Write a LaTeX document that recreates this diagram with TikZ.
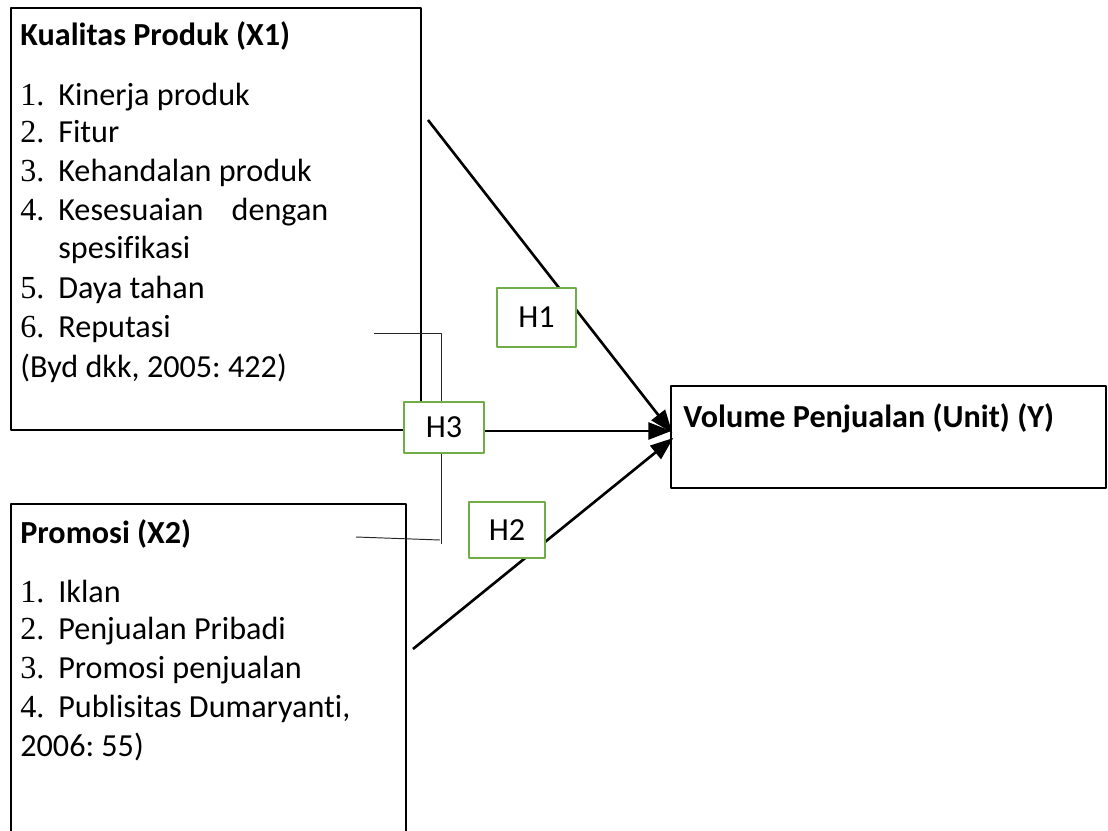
\documentclass[tikz,border=0pt]{standalone}
\usepackage{fontspec}
\setmainfont{Carlito}[Ligatures=NoCommon]
\newfontfamily\numfont{Liberation Serif}
\usetikzlibrary{arrows.meta,fit,calc}

\definecolor{hgreen}{RGB}{112,173,71}
\frenchspacing

\tikzset{
  box/.style={draw, line width=0.8pt, inner sep=0pt},
  hbox/.style={draw=hgreen, line width=1pt, fill=white, inner sep=0pt, font=\fontsize{18.3}{22}\selectfont},
  txt/.style={anchor=base west, inner sep=0pt, font=\fontsize{18.3}{22}\selectfont},
  num/.style={anchor=base west, inner sep=0pt, font=\numfont\fontsize{18.3}{22}\selectfont},
  ttl/.style={anchor=base west, inner sep=0pt, font=\bfseries\fontsize{18.3}{22}\selectfont},
  link/.style={line width=0.55pt, black!85},
  arr/.style={line width=1.5pt, -{Triangle[length=0.46cm, width=0.34cm]}},
}

\begin{document}
\begin{tikzpicture}[x=0.02cm, y=-0.02cm, line join=round]
    \useasboundingbox (0,0) rectangle (1108,831);
    \clip (0,0) rectangle (1108,831);

    % kotak variabel
    \node[box, fit={(11,8) (421,430)}] (X1) {};
    \node[box, fit={(11,504) (406,860)}] (X2) {};
    \node[box, fit={(671,386) (1106,488)}] (Y) {};

    % isi X1
    \node[ttl] (x1t) at (20,46) {Kualitas Produk (X1)};
    \node[num] (a1) at (20,106) {1.};
    \node[txt] (a1t) at (58,106) {Kinerja produk};
    \node[num] (a2) at (20,143) {2.};
    \node[txt] (a2t) at (58,143) {Fitur};
    \node[num] (a3) at (20,182) {3.};
    \node[txt] (a3t) at (58,182) {Kehandalan produk};
    \node[num] (a4) at (20,220) {4.};
    \node[txt] (a4t) at (58,220) {\makebox[5.4cm][s]{Kesesuaian dengan}};
    \node[txt] (a4u) at (58,258) {spesifikasi};
    \node[num] (a5) at (20,298) {5.};
    \node[txt] (a5t) at (58,298) {Daya tahan};
    \node[num] (a6) at (20,337) {6.};
    \node[txt] (a6t) at (58,337) {Reputasi};
    \node[txt] (x1s) at (20,377) {(Byd dkk, 2005: 422)};

    % isi X2
    \node[ttl] (x2t) at (20,543) {Promosi (X2)};
    \node[num] (b1) at (20,602) {1.};
    \node[txt] (b1t) at (58,602) {Iklan};
    \node[num] (b2) at (20,639) {2.};
    \node[txt] (b2t) at (58,639) {Penjualan Pribadi};
    \node[num] (b3) at (20,678) {3.};
    \node[txt] (b3t) at (58,678) {Promosi penjualan};
    \node[num] (b4) at (20,717) {4.};
    \node[txt] (b4t) at (58,717) {Publisitas Dumaryanti,};
    \node[txt] (x2s) at (20,756) {2006: 55)};

    % isi Y
    \node[ttl] (yt) at (683,427) {Volume Penjualan (Unit) (Y)};

    % ujung panah dan garis bantu
    \coordinate (h1s) at (428,120);
    \coordinate (h2s) at (413,649);
    \coordinate (h1e) at ($(Y.west)+(2,-4)$);
    \coordinate (h3e) at ($(Y.west)+(1,-6)$);
    \coordinate (h2e) at ($(Y.west)+(3,1)$);
    \coordinate (u1) at (374,333);
    \coordinate (u2) at (441,333);
    \coordinate (l1) at (441,544);
    \coordinate (l2) at (356,537);
    \coordinate (l3) at (440,540);

    % panah H1 dan H2
    \draw[arr] (h1s) -- (h1e);
    \draw[arr] (h2s) -- (h2e);

    % garis penghubung H3
    \draw[link] (u1) -- (u2) -- (u2 |- 0,402);
    \draw[link] (l1 |- 0,453) -- (l1);
    \draw[link] (l2) -- (l3);

    % kotak hipotesis
    \node[hbox, minimum width=1.58cm, minimum height=1.18cm] (H1) at (536.5,317.5) {H1};
    \node[hbox, minimum width=1.52cm, minimum height=1.12cm] (H2) at (507,530) {H2};
    \node[hbox, minimum width=1.6cm, minimum height=1.02cm] (H3) at (444,427.5) {H3};

    \draw[arr] (H3.east |- h3e) -- (h3e);
\end{tikzpicture}
\end{document}
